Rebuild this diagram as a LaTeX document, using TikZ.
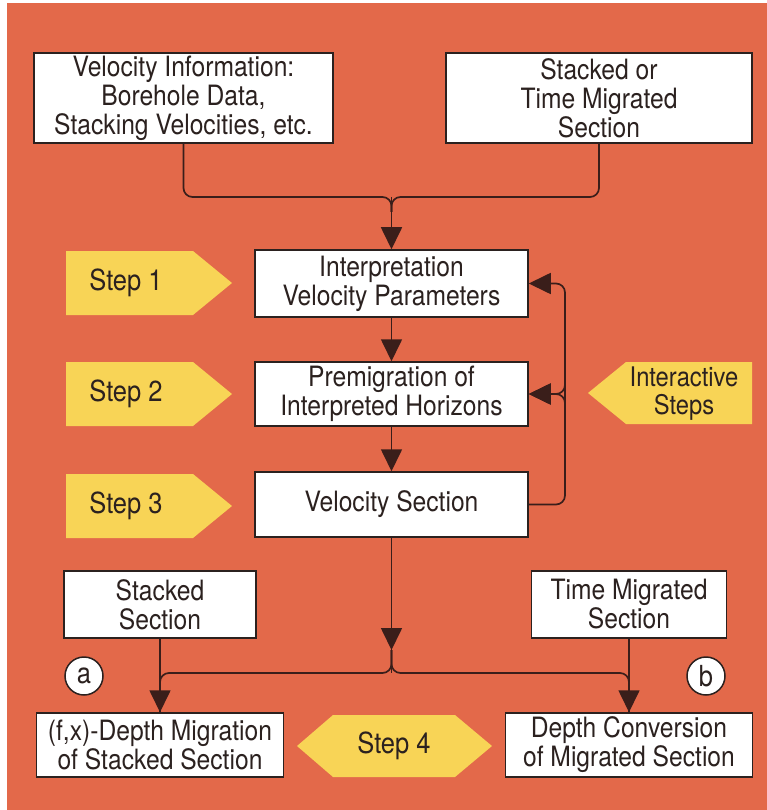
\documentclass[tikz,border=0pt]{standalone}
\usepackage{fontspec}
\setmainfont[FakeStretch=0.88]{TeX Gyre Heros}
\usetikzlibrary{arrows.meta}
\definecolor{bgor}{HTML}{E3694A}
\definecolor{tagyellow}{HTML}{F8D456}
\definecolor{ink}{HTML}{2B211F}
\definecolor{lineink}{HTML}{3A1E1A}
\begin{document}
\begin{tikzpicture}[x=1pt,y=-1pt,
  box/.style={draw=ink,line width=1.5pt,fill=white,inner sep=0pt,align=center,
    font=\fontsize{28}{29}\selectfont,text=ink},
  conn/.style={draw=lineink,line width=1.7pt,rounded corners=9pt},
  arrowtip/.style={-{Triangle[width=21pt,length=22pt]}},
  tagshape/.style={fill=tagyellow},
  taglabel/.style={font=\fontsize{29}{29}\selectfont,text=ink,align=center},
  lettercirc/.style={circle,draw=ink,fill=white,line width=1.5pt,minimum size=38pt,
    inner sep=0pt,font=\fontsize{29}{29}\selectfont,text=ink}
]
\useasboundingbox (0,0) rectangle (767,810);
\fill[white] (0,0) rectangle (767,810);
\fill[bgor] (7,3) rectangle (767,810);

% boxes
\node[box,minimum width=299pt,minimum height=90pt] (vel) at (183.5,98)
  {Velocity Information:\\Borehole Data,\\Stacking Velocities, etc.};
\node[box,minimum width=306pt,minimum height=90pt] (tms) at (599,98)
  {Stacked or\\Time Migrated\\Section};
\node[box,minimum width=273pt,minimum height=67pt] (ip) at (391.5,283.5)
  {Interpretation\\Velocity Parameters};
\node[box,minimum width=273pt,minimum height=64pt] (pm) at (391.5,394)
  {Premigration of\\Interpreted Horizons};
\node[box,minimum width=273pt,minimum height=65pt] (vs) at (391.5,504.5)
  {Velocity Section};
\node[box,minimum width=192pt,minimum height=67pt] (ss) at (160,604.5)
  {Stacked\\Section};
\node[box,minimum width=195pt,minimum height=67pt] (tm) at (629,604.5)
  {Time Migrated\\Section};
\node[box,minimum width=247pt,minimum height=64pt] (fx) at (160,745)
  {(f,x)-Depth Migration\\of Stacked Section};
\node[box,minimum width=247pt,minimum height=64pt] (dc) at (629,745)
  {Depth Conversion\\of Migrated Section};

% step tags
\path[tagshape] (66,251) -- (193,251) -- (232,283) -- (193,315) -- (66,315) -- cycle;
\node[taglabel] (s1) at (126,283) {Step 1};
\path[tagshape] (66,362) -- (193,362) -- (232,394) -- (193,426) -- (66,426) -- cycle;
\node[taglabel] (s2) at (126,394) {Step 2};
\path[tagshape] (66,474) -- (193,474) -- (232,506) -- (193,538) -- (66,538) -- cycle;
\node[taglabel] (s3) at (126,506) {Step 3};
\path[tagshape] (752,362) -- (626,362) -- (588,393) -- (626,424) -- (752,424) -- cycle;
\node[taglabel,font=\fontsize{27}{28}\selectfont] (is) at (684,394) {Interactive\\Steps};
\path[tagshape] (297,746) -- (333,715) -- (455,715) -- (492,746) -- (455,777) -- (333,777) -- cycle;
\node[taglabel] (s4) at (394,746) {Step 4};

% circles
\node[lettercirc] (ca) at (84,676) {a};
\node[lettercirc] (cb) at (706,676) {b};

% top merge
\coordinate (j1) at (391.5,197);
\draw[conn] (vel.south) |- (j1) -- ++(0,15);
\draw[conn] (tms.south) |- (j1) -- ++(0,15);
\draw[conn,arrowtip] (j1) -- (ip.north);

% main chain
\draw[conn,arrowtip] (ip.south) -- (pm.north);
\draw[conn,arrowtip] (pm.south) -- (vs.north);

% feedback
\coordinate (fb1) at (565,283.5);
\coordinate (fb2) at (565,375);
\coordinate (fb3) at (565,415);
\draw[conn,arrowtip] (vs.east) -| (fb1) -- (ip.east);
\draw[conn,arrowtip] (fb2) |- (pm.east);
\draw[conn,arrowtip] (fb3) |- (pm.east);

% bottom split
\coordinate (j2) at (391.5,673);
\coordinate (j2a) at (391.5,650);
\draw[conn] (vs.south) -- (j2);
\draw[conn,arrowtip] (vs.south) -- (j2a);
\draw[conn] (j2a) -- (j2) -| (fx.north);
\draw[conn] (j2a) -- (j2) -| (dc.north);
\draw[conn,arrowtip] (ss.south) -- (fx.north);
\draw[conn,arrowtip] (tm.south) -- (dc.north);
\end{tikzpicture}
\end{document}
